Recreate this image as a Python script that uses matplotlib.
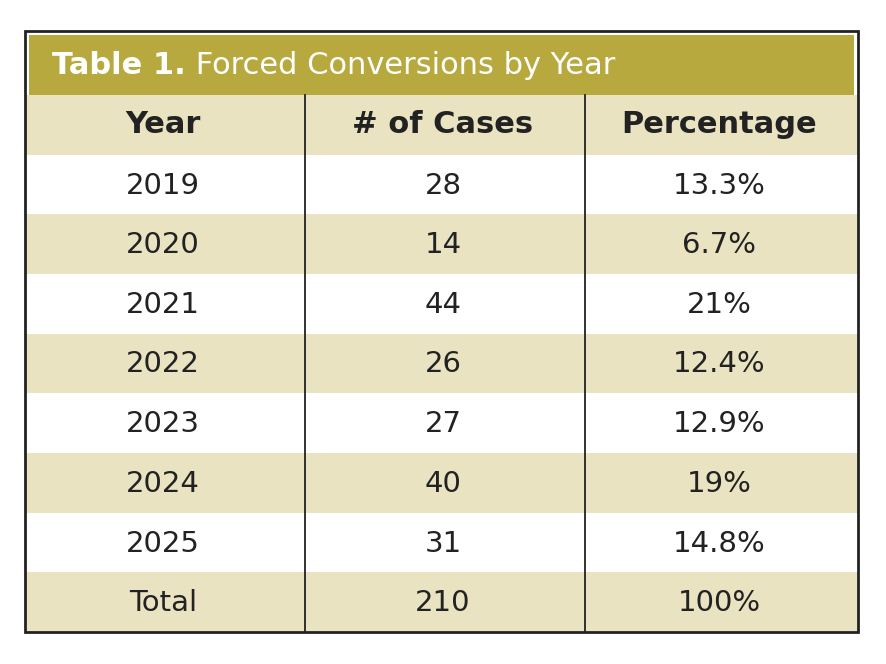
import matplotlib.pyplot as plt
from matplotlib.patches import Rectangle

title_bold = "Table 1."
title_rest = " Forced Conversions by Year"
headers = ["Year", "# of Cases", "Percentage"]
years = ["2019", "2020", "2021", "2022", "2023", "2024", "2025", "Total"]
cases = ["28", "14", "44", "26", "27", "40", "31", "210"]
percent = ["13.3%", "6.7%", "21%", "12.4%", "12.9%", "19%", "14.8%", "100%"]

olive = "#b8a93f"
beige = "#e9e3c2"
fig = plt.figure(figsize=(8.86, 6.64), dpi=100)
ax = fig.add_axes([0, 0, 1, 1])
ax.set_xlim(0, 886); ax.set_ylim(664, 0); ax.axis("off")

L, R, T, B = 25, 858, 31, 632
ax.add_patch(Rectangle((L, T), R - L, B - T, facecolor="white", edgecolor="none"))
ax.add_patch(Rectangle((L + 4, T + 4), R - L - 8, 95 - T - 4, facecolor=olive, edgecolor="none"))
t = ax.text(52, 65, title_bold, color="white", fontsize=22, fontweight="bold", va="center", ha="left")
fig.canvas.draw()
bb = t.get_window_extent()
ax.text(bb.x1, 65, title_rest, color="white", fontsize=22, va="center", ha="left")

rows_top = 95
rh = (B - rows_top) / 9
cols = [L, 305, 585, R]
centers = [(cols[i] + cols[i + 1]) / 2 for i in range(3)]
ax.add_patch(Rectangle((L, rows_top), R - L, rh, facecolor=beige, edgecolor="none"))
for j, h in enumerate(headers):
    ax.text(centers[j] - 2, rows_top + rh / 2, h, fontsize=22, fontweight="bold", ha="center", va="center", color="#222222")
for i in range(len(years)):
    y0 = rows_top + rh * (i + 1)
    if i % 2 == 1:
        ax.add_patch(Rectangle((L, y0), R - L, rh, facecolor=beige, edgecolor="none"))
    for j, v in enumerate([years[i], cases[i], percent[i]]):
        ax.text(centers[j] - 2, y0 + rh / 2 + 1, v, fontsize=21, ha="center", va="center", color="#222222")
for x in cols[1:3]:
    ax.plot([x, x], [rows_top, B], color="#222222", lw=1.3)
ax.add_patch(Rectangle((L, T), R - L, B - T, facecolor="none", edgecolor="#222222", lw=2))
fig.savefig("out.png", dpi=100)
